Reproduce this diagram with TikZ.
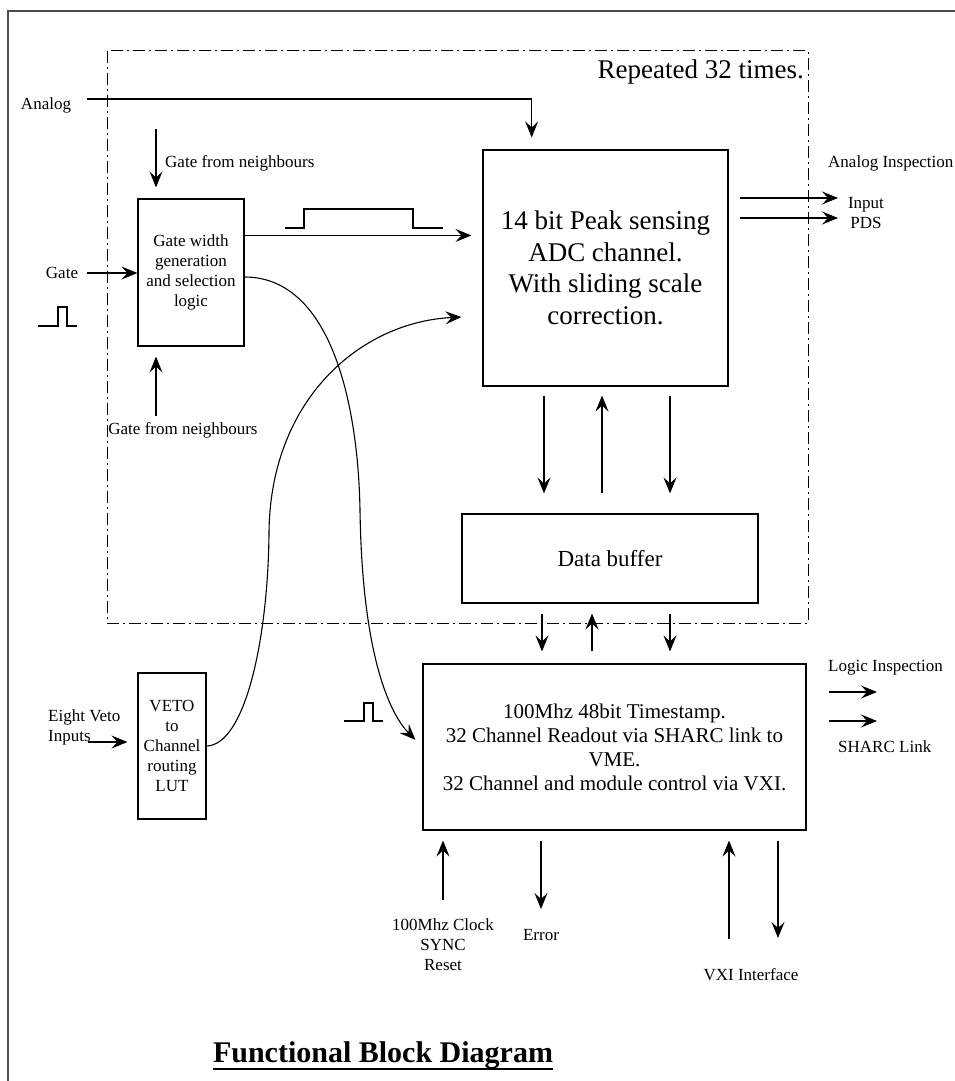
\documentclass[tikz,border=0pt]{standalone}
\usepackage{fontspec}
\setmainfont{Liberation Serif}
\usetikzlibrary{arrows.meta,calc}
\newcommand{\lblsize}{\fontsize{17}{20}\selectfont}
\newcommand{\adcsize}{\rmfamily\fontsize{27}{31.5}\selectfont}
\newcommand{\tssize}{\fontsize{21}{24}\selectfont}

\begin{document}
\begin{tikzpicture}[x=1pt,y=-1pt,
  font=\lblsize,
  block/.style={draw,line width=1.1pt,inner sep=0pt,align=center},
  lbl/.style={inner sep=0pt,align=center},
  arr/.style={-{Stealth[length=16pt,width=13pt,inset=6pt]},line width=1.1pt},
  repbox/.style={line width=1pt,dash pattern=on 12pt off 4pt on 2pt off 4pt},
  pulse/.style={line width=1.1pt}]

\useasboundingbox (0,0) rectangle (954,1081);
\draw[line width=1.3pt,black!70] (8,11) rectangle (975,1100);
\draw[repbox] (107,51) rectangle (808,623);
\node[lbl,font=\adcsize,anchor=east] (rep) at (804,72) {Repeated 32 times.};

\node[block,minimum width=245pt,minimum height=236pt,font=\adcsize] (adc)
  at (605.5,268) {14 bit Peak sensing\\ADC channel.\\With sliding scale\\correction.};
\node[block,minimum width=106pt,minimum height=147pt] (gate) at (191,272.5)
  {Gate width\\generation\\and selection\\logic};
\node[block,minimum width=296pt,minimum height=89pt,
  font=\fontsize{23}{27}\selectfont] (buf) at (610,558.5) {Data buffer};
\node[block,minimum width=383pt,minimum height=166pt,font=\tssize] (ts)
  at (614.5,747) {100Mhz 48bit Timestamp.\\32 Channel Readout via SHARC link to\\
  VME.\\32 Channel and module control via VXI.};
\node[block,minimum width=68pt,minimum height=146pt] (veto) at (172,746)
  {VETO\\to\\Channel\\routing\\LUT};

\node[lbl] (lanalog) at (46,105) {Analog};
\node[lbl] (lgate) at (62,273) {Gate};
\node[lbl,anchor=west] (lgnt) at (165,163) {Gate from neighbours};
\node[lbl] (lgnb) at (183,430) {Gate from neighbours};
\node[lbl,anchor=west,align=left] (lveto) at (48,727) {Eight Veto\\Inputs};
\node[lbl,anchor=west] (lai) at (828,163) {Analog Inspection};
\node[lbl] (lin) at (866,213) {Input\\PDS};
\node[lbl,anchor=west] (llogic) at (828,668) {Logic Inspection};
\node[lbl,anchor=west] (lsharc) at (838,747) {SHARC Link};
\node[lbl] (lclock) at (443,945) {100Mhz Clock\\SYNC\\Reset};
\node[lbl] (lerr) at (541,935) {Error};
\node[lbl] (lvxi) at (751,975) {VXI Interface};
\node[lbl,font=\fontsize{30}{34}\selectfont\bfseries] (title) at (383,1055)
  {Functional Block Diagram};
\draw[line width=2pt] ([yshift=-7pt]title.base west) -- ([yshift=-7pt]title.base east);

% gate pulses
\draw[pulse] (38,326) -- ++(20,0) -- ++(0,-19) -- ++(9,0) -- ++(0,19) -- ++(10,0);
\draw[pulse] (285,228) -- ++(19,0) -- ++(0,-19) -- ++(109,0) -- ++(0,19) -- ++(30,0);
\draw[pulse] (344,721) -- ++(20,0) -- ++(0,-18) -- ++(9,0) -- ++(0,18) -- ++(10,0);

% inputs to the channel
\coordinate (ain) at (87,99);
\draw[arr,shorten >=12pt] (ain) -| ($(adc.north west)!0.2!(adc.north east)$);
\coordinate (gin) at (87,273);
\draw[arr] (gin) -- (gin -| gate.west);
\coordinate (gnt) at (156,129);
\draw[arr,shorten >=11pt] (gnt) -- (gnt |- gate.north);
\coordinate (gnb) at (156,416);
\draw[arr,shorten >=10pt] (gnb) -- (gnb |- gate.south);
\coordinate (gout) at ([yshift=-37pt]gate.north east);
\draw[arr,shorten >=11pt] (gout) -- (gout -| adc.west);
\coordinate (vin) at (88,742);
\draw[arr,shorten >=10pt] (vin) -- (vin -| veto.west);

% crossing curves
\draw[arr,shorten >=10pt] ([yshift=-4.5pt]gate.east) .. controls +(85,0) and (358,400)
  .. (360,510) .. controls (362,650) and (388,712) .. (ts.west);
\draw[arr,shorten >=21pt] (veto.east) .. controls (245,745) and (268,640)
  .. (269,533) .. controls (270,400) and (360,322) .. ([yshift=-48pt]adc.west);

% analog inspection
\coordinate (pa) at (838,198);
\coordinate (pb) at (838,218);
\draw[arr,shorten <=11pt] (pa -| adc.east) -- (pa);
\draw[arr,shorten <=11pt] (pb -| adc.east) -- (pb);

% channel <-> buffer <-> timestamp
\foreach \x in {544,670}
  \draw[arr,shorten <=9pt,shorten >=20pt] (\x,0 |- adc.south) -- (\x,0 |- buf.north);
\draw[arr,shorten <=20pt,shorten >=9pt] (602,0 |- buf.north) -- (602,0 |- adc.south);
\foreach \x in {542,670}
  \draw[arr,shorten <=10pt,shorten >=12pt] (\x,0 |- buf.south) -- (\x,0 |- ts.north);
\draw[arr,shorten <=12pt,shorten >=10pt] (592,0 |- ts.north) -- (592,0 |- buf.south);

% logic inspection
\coordinate (la) at (877,692);
\coordinate (lb) at (877,721);
\draw[arr,shorten <=22pt] (la -| ts.east) -- (la);
\draw[arr,shorten <=22pt] (lb -| ts.east) -- (lb);

% clock, error and VXI
\coordinate (ck) at (443,900);
\coordinate (er) at (541,909);
\coordinate (vu) at (729,939);
\coordinate (vd) at (778,938);
\draw[arr,shorten >=10pt] (ck) -- (ck |- ts.south);
\draw[arr,shorten <=10pt] (er |- ts.south) -- (er);
\draw[arr,shorten >=10pt] (vu) -- (vu |- ts.south);
\draw[arr,shorten <=10pt] (vd |- ts.south) -- (vd);
\end{tikzpicture}
\end{document}
